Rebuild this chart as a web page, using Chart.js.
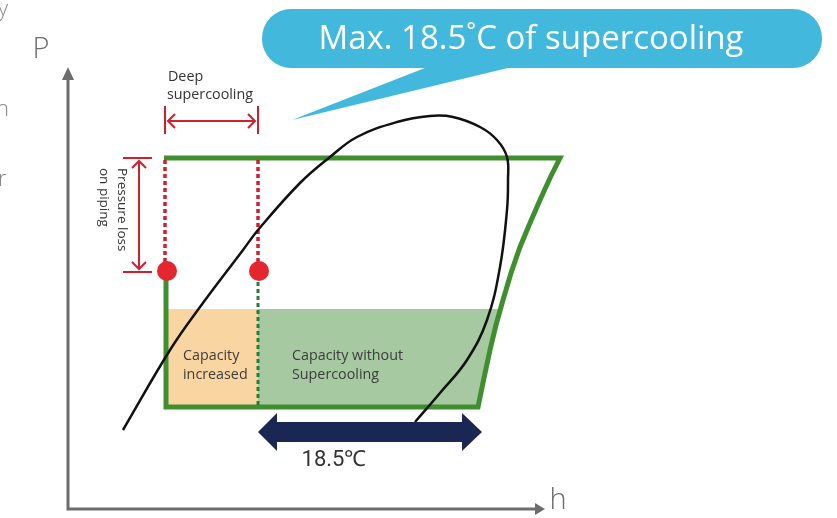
<!DOCTYPE html>
<html>
<head>
<meta charset="utf-8">
<script src="https://cdn.jsdelivr.net/npm/chart.js@4"></script>
<style>
  html, body { margin: 0; padding: 0; background: #fff; }
  #wrap { width: 837px; height: 518px; }
</style>
</head>
<body>
<div id="wrap"><canvas id="myChart" width="837" height="518"></canvas></div>
<script>
  // diagram coordinates: h (enthalpy, left->right), P (pressure, top->bottom on a reversed scale)
  const domeH = [123, 170, 200, 243, 258, 300, 330, 357, 397, 430, 453, 480, 497, 507, 508, 507, 500, 487, 467, 440, 415];
  const domeP = [430, 350, 307, 250, 230, 183, 157, 137, 122, 116, 117, 127, 140, 157, 180, 210, 267, 320, 360, 393, 422];

  const cycleH = [164, 560, 550, 540, 530, 520, 511, 503, 496, 490, 484, 478, 166, 166];
  const cycleP = [158, 158, 178, 200, 223, 247, 273, 300, 325, 350, 378, 407, 407, 271];

  const orangeH = [166, 258, 258, 166];
  const orangeP = [309, 309, 405, 405];
  const greenH = [258, 500, 496, 490, 484, 478, 258];
  const greenP = [309, 309, 325, 350, 378, 405, 405];

  const dotH = [167, 259];
  const dotP = [271, 271];

  const arrowH = [258, 277, 277, 462, 462, 482, 462, 462, 277, 277];
  const arrowP = [432, 413, 422, 422, 413, 432, 451, 442, 442, 451];

  const tailH = [430, 516, 292];
  const tailP = [66, 66, 120];
  const bubbleH = [262, 822];
  const bubbleP = [9, 68];

  const pts = (hs, ps) => hs.map((h, i) => ({ x: h, y: ps[i] }));

  const red = '#d21f2f';
  const ctx = document.getElementById('myChart');

  const small = '14.3px "Open Sans"';
  const notes = [
    { t: 'Max. 18.5˚C of supercooling', h: 531, p: 40, font: '33px "Open Sans"', color: '#ffffff', align: 'center' },
    { t: 'Deep', h: 168, p: 77, font: small, color: '#333', align: 'left' },
    { t: 'supercooling', h: 167, p: 95, font: small, color: '#333', align: 'left' },
    { t: 'Capacity', h: 183, p: 356, font: small, color: '#3c3c3c', align: 'left' },
    { t: 'increased', h: 183, p: 375, font: small, color: '#3c3c3c', align: 'left' },
    { t: 'Capacity without', h: 292, p: 356, font: small, color: '#3c3c3c', align: 'left' },
    { t: 'Supercooling', h: 292, p: 375, font: small, color: '#3c3c3c', align: 'left' },
    { t: '18.5℃', h: 334, p: 460, font: '22px "Roboto"', color: '#333', align: 'center' },
    { t: 'P', h: 41, p: 50, font: '300 29px "Open Sans"', color: '#6d6d6d', align: 'center' },
    { t: 'h', h: 558, p: 501, font: '300 29px "Open Sans"', color: '#6d6d6d', align: 'center' },
    { t: 'y', h: -2, p: 10, font: '300 22px "Open Sans"', color: '#888', align: 'left' },
    { t: 'n', h: -4, p: 110, font: '300 22px "Open Sans"', color: '#888', align: 'left' },
    { t: 'r', h: -2, p: 180, font: '300 22px "Open Sans"', color: '#888', align: 'left' }
  ];
  const rotated = [
    { t: 'Pressure loss', h: 122, p: 168 },
    { t: 'on piping', h: 104, p: 168 }
  ];

  const bubblePlugin = {
    id: 'bubble',
    beforeDatasetsDraw(chart) {
      const c = chart.ctx, x = chart.scales.x, y = chart.scales.y;
      const x0 = x.getPixelForValue(bubbleH[0]), x1 = x.getPixelForValue(bubbleH[1]);
      const y0 = y.getPixelForValue(bubbleP[0]), y1 = y.getPixelForValue(bubbleP[1]);
      c.save();
      c.fillStyle = '#41b8dc';
      c.beginPath();
      c.roundRect(x0, y0, x1 - x0, y1 - y0, 29);
      c.fill();
      c.restore();
    }
  };

  const textPlugin = {
    id: 'notes',
    afterDatasetsDraw(chart) {
      const c = chart.ctx, x = chart.scales.x, y = chart.scales.y;
      c.save();
      c.textBaseline = 'middle';
      notes.forEach(n => {
        c.font = n.font;
        c.fillStyle = n.color;
        c.textAlign = n.align;
        c.fillText(n.t, x.getPixelForValue(n.h), y.getPixelForValue(n.p));
      });
      c.font = '13.5px "Open Sans"';
      c.fillStyle = '#333';
      c.textAlign = 'left';
      rotated.forEach(n => {
        c.save();
        c.translate(x.getPixelForValue(n.h), y.getPixelForValue(n.p));
        c.rotate(Math.PI / 2);
        c.fillText(n.t, 0, 0);
        c.restore();
      });
      c.restore();
    }
  };

  const seg = (hs, ps, color, width, extra) => Object.assign({
    data: pts(hs, ps), showLine: true, borderColor: color, borderWidth: width,
    pointRadius: 0, tension: 0, fill: false
  }, extra || {});

  const shape = (hs, ps, color, order) => ({
    data: pts(hs, ps), showLine: true, borderWidth: 0, borderColor: color,
    backgroundColor: color, pointRadius: 0, fill: 'shape', order: order
  });

  new Chart(ctx, {
    type: 'scatter',
    data: {
      datasets: [
        shape(orangeH, orangeP, '#f9d5a2', 20),
        shape(greenH, greenP, '#a6c9a2', 20),
        shape(tailH, tailP, '#41b8dc', 20),
        seg(cycleH, cycleP, '#3f8f2f', 5, { order: 10, borderJoinStyle: 'miter' }),
        seg([165, 165], [160, 268], red, 3.5, { borderDash: [4, 3], order: 9 }),
        seg([258, 258], [160, 268], red, 3.5, { borderDash: [4, 3], order: 9 }),
        seg([258, 258], [282, 405], '#2c7a3a', 3, { borderDash: [4, 3], order: 9 }),
        seg(domeH, domeP, '#111', 2.5, { tension: 0.4, order: 5 }),
        { data: pts(dotH, dotP), pointRadius: 10, pointBackgroundColor: '#e5262f', pointBorderWidth: 0, order: 4 },
        shape(arrowH, arrowP, '#1b2753', 3),
        // deep supercooling marker
        seg([165, 165], [106, 134], red, 2, { order: 6 }),
        seg([258, 258], [106, 134], red, 2, { order: 6 }),
        seg([168, 255], [121, 121], red, 2, { order: 6 }),
        seg([175, 168, 175], [114, 121, 128], red, 2, { order: 6 }),
        seg([248, 255, 248], [114, 121, 128], red, 2, { order: 6 }),
        // pressure loss marker
        seg([123, 152], [158, 158], red, 2, { order: 6 }),
        seg([123, 152], [272, 272], red, 2, { order: 6 }),
        seg([139, 139], [161, 269], red, 2, { order: 6 }),
        seg([132, 139, 146], [168, 161, 168], red, 2, { order: 6 }),
        seg([132, 139, 146], [262, 269, 262], red, 2, { order: 6 }),
        // axes
        seg([68, 68, 538], [78, 509, 509], '#6d6d6d', 3, { order: 6 }),
        shape([62, 68, 74], [80, 67, 80], '#6d6d6d', 6),
        shape([535, 545, 535], [503, 509, 515], '#6d6d6d', 6)
      ]
    },
    options: {
      responsive: false,
      animation: false,
      devicePixelRatio: 1,
      layout: { padding: 0, autoPadding: false },
      plugins: { legend: { display: false }, tooltip: { enabled: false } },
      scales: {
        x: { type: 'linear', min: 0, max: 837, display: false },
        y: { type: 'linear', min: 0, max: 518, reverse: true, display: false }
      }
    },
    plugins: [bubblePlugin, textPlugin]
  });
</script>
</body>
</html>
